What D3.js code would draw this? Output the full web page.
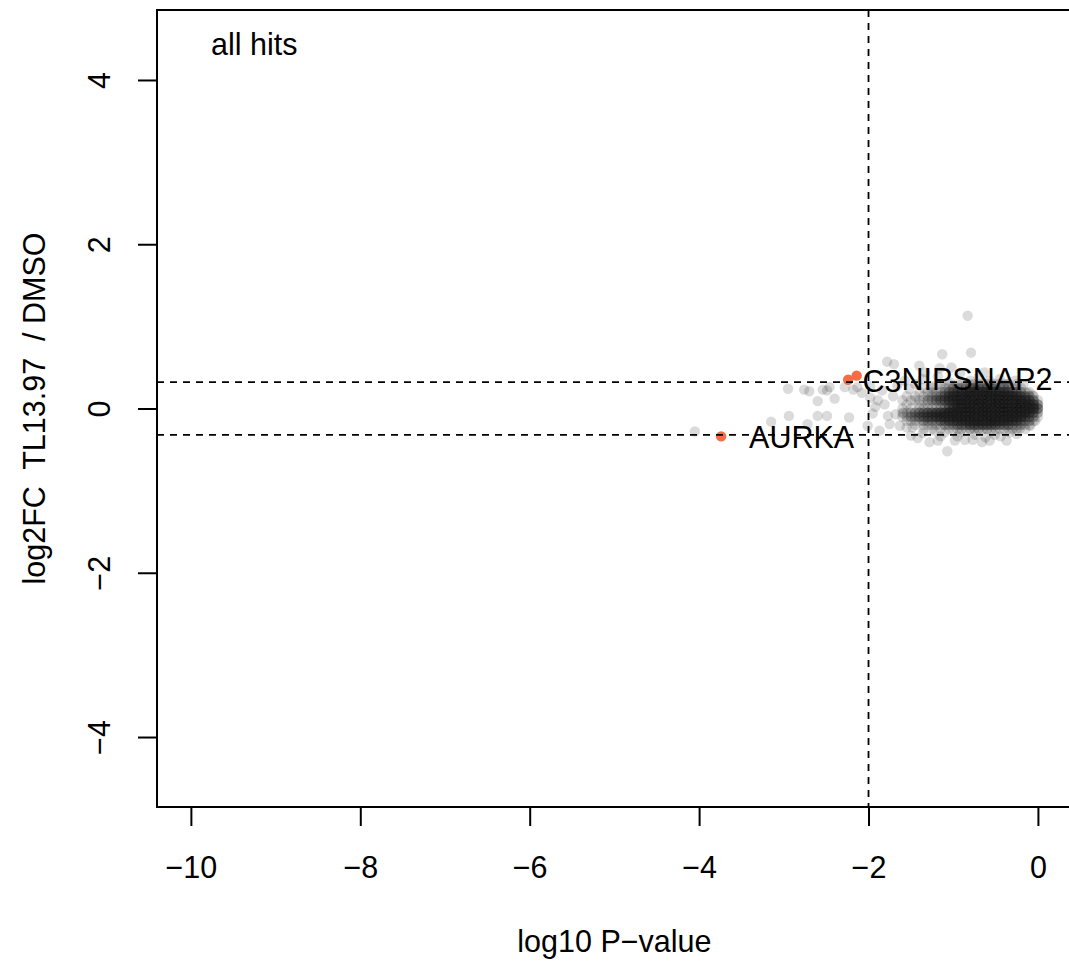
<!DOCTYPE html>
<html><head><meta charset="utf-8">
<script src="https://cdn.jsdelivr.net/npm/d3@7"></script>
<style>body{margin:0;background:#fff} text{font-family:"Liberation Sans", Arial, sans-serif; white-space:pre}</style>
</head><body><svg id="c" width="1069" height="962"></svg>
<script>
const xTicks = [-10, -8, -6, -4, -2, 0];
const yTicks = [-4, -2, 0, 2, 4];
const xTitle = "log10 P\u2212value";
const yTitle = "log2FC  TL13.97  / DMSO";
const panelTitle = "all hits";
const pCutoff = -2;
const fcCutoffs = [0.32, -0.32];

// isolated non-hit proteins [log10 P, log2FC]
const greyHits = [
 [-4.05,-0.28],[-3.15,-0.16],[-2.94,-0.09],[-2.72,-0.19],[-2.60,-0.09],[-2.49,-0.09],[-2.23,-0.11],
 [-2.95,0.24],[-2.76,0.23],[-2.70,0.21],[-2.54,0.23],[-2.49,0.22],[-2.46,0.26],[-2.60,0.09],[-2.40,0.12],
 [-2.28,0.26],[-2.18,0.23],[-2.13,0.26],[-2.08,0.19],[-1.95,-0.06],[-1.98,0.13],[-1.89,0.10],[-1.84,0.22],
 [-1.77,-0.09],[-1.68,-0.07],[-1.59,-0.06],[-1.55,-0.23],[-1.63,-0.21],[-1.48,-0.23],[-1.36,-0.30],
 [-1.28,-0.41],[-1.18,-0.39],[-1.07,-0.52],[-0.98,-0.39],[-0.86,-0.38],[-0.77,-0.38],[-0.66,-0.41],
 [-0.57,-0.39],[-0.37,-0.39],[-0.21,-0.24],[-0.12,0.19],[-0.83,1.13],[-1.13,0.66],[-0.79,0.68],
 [-1.78,0.57],[-1.70,0.54],[-1.40,0.52],[-1.16,0.49],[-1.02,0.50],[-1.33,0.44],[-0.92,0.43],[-0.63,0.44],
 [-0.45,0.36],[-0.27,0.34],[-1.57,0.34],[-1.45,0.30],[-1.92,0.02],[-1.81,0.05],[-1.71,0.15],[-2.01,-0.21],
 [-1.87,-0.27],[-1.75,-0.19],[-1.22,-0.27],[-1.10,-0.29],[-0.09,-0.21],[-0.33,-0.29],[-0.51,-0.32],
 [-0.74,-0.32],[-0.92,-0.29],[-0.17,0.29],[-0.57,0.34],[-0.80,0.34],[-1.04,0.32],[-1.25,0.27],[-1.98,0.27],
 [-1.50,-0.33],[-1.42,-0.36],[-1.15,-0.34],[-0.95,-0.34],[-0.62,-0.35],[-0.44,-0.34],[-0.25,-0.31],
 [-1.66,0.28],[-1.52,0.24],[-1.36,0.36],[-1.18,0.39],[-0.70,0.38],[-0.36,0.30],[-0.06,0.16],[-0.03,-0.15]
];

// dense core: number of overlapping proteins at each (x, y) location
const denseX = [-1.60,-1.55,-1.50,-1.45,-1.40,-1.35,-1.30,-1.25,-1.20,-1.15,-1.10,-1.05,-1.00,-0.95,-0.90,-0.85,-0.80,
                -0.75,-0.70,-0.65,-0.60,-0.55,-0.50,-0.45,-0.40,-0.35,-0.30,-0.25,-0.20,-0.15,-0.10,-0.05,0.00];
const denseY = [0.30, 0.25, 0.20, 0.15, 0.10, 0.05, 0.00, -0.05, -0.10, -0.15, -0.20, -0.25];
const denseCounts = [
 [0,0,0,0,0,0,0,0,0,1,0,1,0,1,1,1,1,1,1,1,1,1,1,1,1,1,0,1,0,0,0,0,0],
 [0,0,0,0,0,1,0,1,0,1,1,1,2,2,2,2,3,3,3,3,3,3,2,2,2,2,1,1,1,0,0,0,0],
 [0,0,0,0,1,0,1,1,1,1,2,3,4,4,5,5,6,6,6,6,6,6,5,5,5,4,3,3,2,1,1,0,0],
 [0,1,0,1,0,1,1,1,2,2,3,4,5,6,7,7,8,8,8,8,8,8,8,8,7,6,6,5,4,3,2,1,0],
 [1,0,1,1,1,1,2,2,3,3,4,5,6,7,8,9,9,9,9,9,9,9,9,9,9,8,8,7,6,5,4,3,1],
 [0,1,0,0,1,0,1,0,1,1,1,2,3,4,6,7,8,9,9,9,9,9,9,9,9,9,9,8,8,7,6,4,3],
 [1,0,1,0,1,1,1,1,1,1,2,3,4,6,7,8,9,9,9,9,9,9,9,9,9,9,9,9,9,8,7,6,4],
 [1,1,2,2,3,3,4,4,5,5,6,7,7,8,9,9,9,9,9,9,9,9,9,9,9,9,9,9,8,7,5,3,2],
 [1,1,2,2,3,3,4,4,5,5,6,6,7,7,8,9,9,9,9,9,9,9,9,9,9,8,8,7,6,4,3,2,1],
 [0,1,1,1,1,2,2,2,2,3,3,4,4,5,5,6,6,7,7,7,7,7,7,6,6,5,5,4,3,2,2,1,0],
 [0,0,0,1,0,1,1,1,1,1,2,2,2,3,3,3,4,4,4,4,4,4,4,3,3,3,2,2,2,1,1,0,0],
 [0,0,0,0,0,1,0,1,0,1,0,1,1,1,1,1,2,1,2,1,2,1,1,1,1,1,1,1,0,1,0,0,0]
];

// significant hits
const hitNames = ["AURKA", "C3", "NIPSNAP2"];
const hitX = [-3.74, -2.24, -2.14];
const hitY = [-0.34, 0.35, 0.40];
const labelX = [-3.41, -2.07, -1.61];
const labelY = [-0.35, 0.34, 0.365];

const svg = d3.select("#c");
const L = 157, T = 10, R = 1071.8, B = 807;
const x = d3.scaleLinear().domain([-10.4, 0.4]).range([L, R]);
const y = d3.scaleLinear().domain([-4.852, 4.852]).range([B, T]);
const FS = 30.5;
const RAD = 5.2;

svg.append("defs").append("clipPath").attr("id","clip")
  .append("rect").attr("x",L).attr("y",T).attr("width",R-L).attr("height",B-T);

const pts = [];
denseCounts.forEach((row, j) => row.forEach((n, i) => {
  for (let k = 0; k < n; k++) pts.push([denseX[i], denseY[j]]);
}));
greyHits.forEach(p => pts.push(p));

const g = svg.append("g").attr("clip-path","url(#clip)");
g.selectAll("circle.grey").data(pts).enter().append("circle")
  .attr("class","grey")
  .attr("cx", d => x(d[0])).attr("cy", d => y(d[1])).attr("r", RAD)
  .attr("fill", "#222").attr("fill-opacity", 0.16);

g.selectAll("circle.hit").data(hitX).enter().append("circle")
  .attr("class","hit")
  .attr("cx", (d,i) => x(hitX[i])).attr("cy", (d,i) => y(hitY[i])).attr("r", RAD)
  .attr("fill", "#F46D43");

// cutoff lines
g.append("line").attr("x1", x(pCutoff)).attr("x2", x(pCutoff)).attr("y1", T).attr("y2", B)
  .attr("stroke","#000").attr("stroke-width",1.8).attr("stroke-dasharray","7,6");
fcCutoffs.forEach(c => {
  g.append("line").attr("x1", L).attr("x2", R).attr("y1", y(c)).attr("y2", y(c))
    .attr("stroke","#000").attr("stroke-width",1.8).attr("stroke-dasharray","7,6");
});

// labels
svg.selectAll("text.lab").data(hitNames).enter().append("text")
  .attr("class","lab")
  .attr("x", (d,i) => x(labelX[i])).attr("y", (d,i) => y(labelY[i]))
  .attr("dy","0.36em").attr("font-size", FS).attr("fill","#000").text(d => d);

// box
svg.append("rect").attr("x",L).attr("y",T).attr("width",R-L).attr("height",B-T)
  .attr("fill","none").attr("stroke","#000").attr("stroke-width",2);

// axes
const xa = svg.append("g").attr("transform",`translate(0,${B})`)
  .call(d3.axisBottom(x).tickValues(xTicks).tickSize(19).tickSizeOuter(0));
xa.select(".domain").remove();
xa.selectAll(".tick line").attr("stroke","#000").attr("stroke-width",2);
xa.selectAll(".tick text").attr("y", 71).attr("dy", null).attr("font-size", FS).attr("fill","#000")
  .attr("font-family",'"Liberation Sans", Arial, sans-serif');

const ya = svg.append("g").attr("transform",`translate(${L},0)`)
  .call(d3.axisLeft(y).tickValues(yTicks).tickSize(19).tickSizeOuter(0));
ya.select(".domain").remove();
ya.selectAll(".tick line").attr("stroke","#000").attr("stroke-width",2);
ya.selectAll(".tick text").attr("x", null).attr("dy", null)
  .attr("transform","translate(-47,0) rotate(-90)").attr("text-anchor","middle")
  .attr("font-size", FS).attr("fill","#000")
  .attr("font-family",'"Liberation Sans", Arial, sans-serif');

svg.append("text").attr("x",(L+R)/2).attr("y",952).attr("text-anchor","middle")
  .attr("font-size",FS).text(xTitle);
svg.append("text").attr("transform",`translate(45,${(T+B)/2}) rotate(-90)`)
  .attr("text-anchor","middle").attr("font-size",FS).text(yTitle);
svg.append("text").attr("x",211).attr("y",55).attr("font-size",FS).text(panelTitle);
</script></body></html>
